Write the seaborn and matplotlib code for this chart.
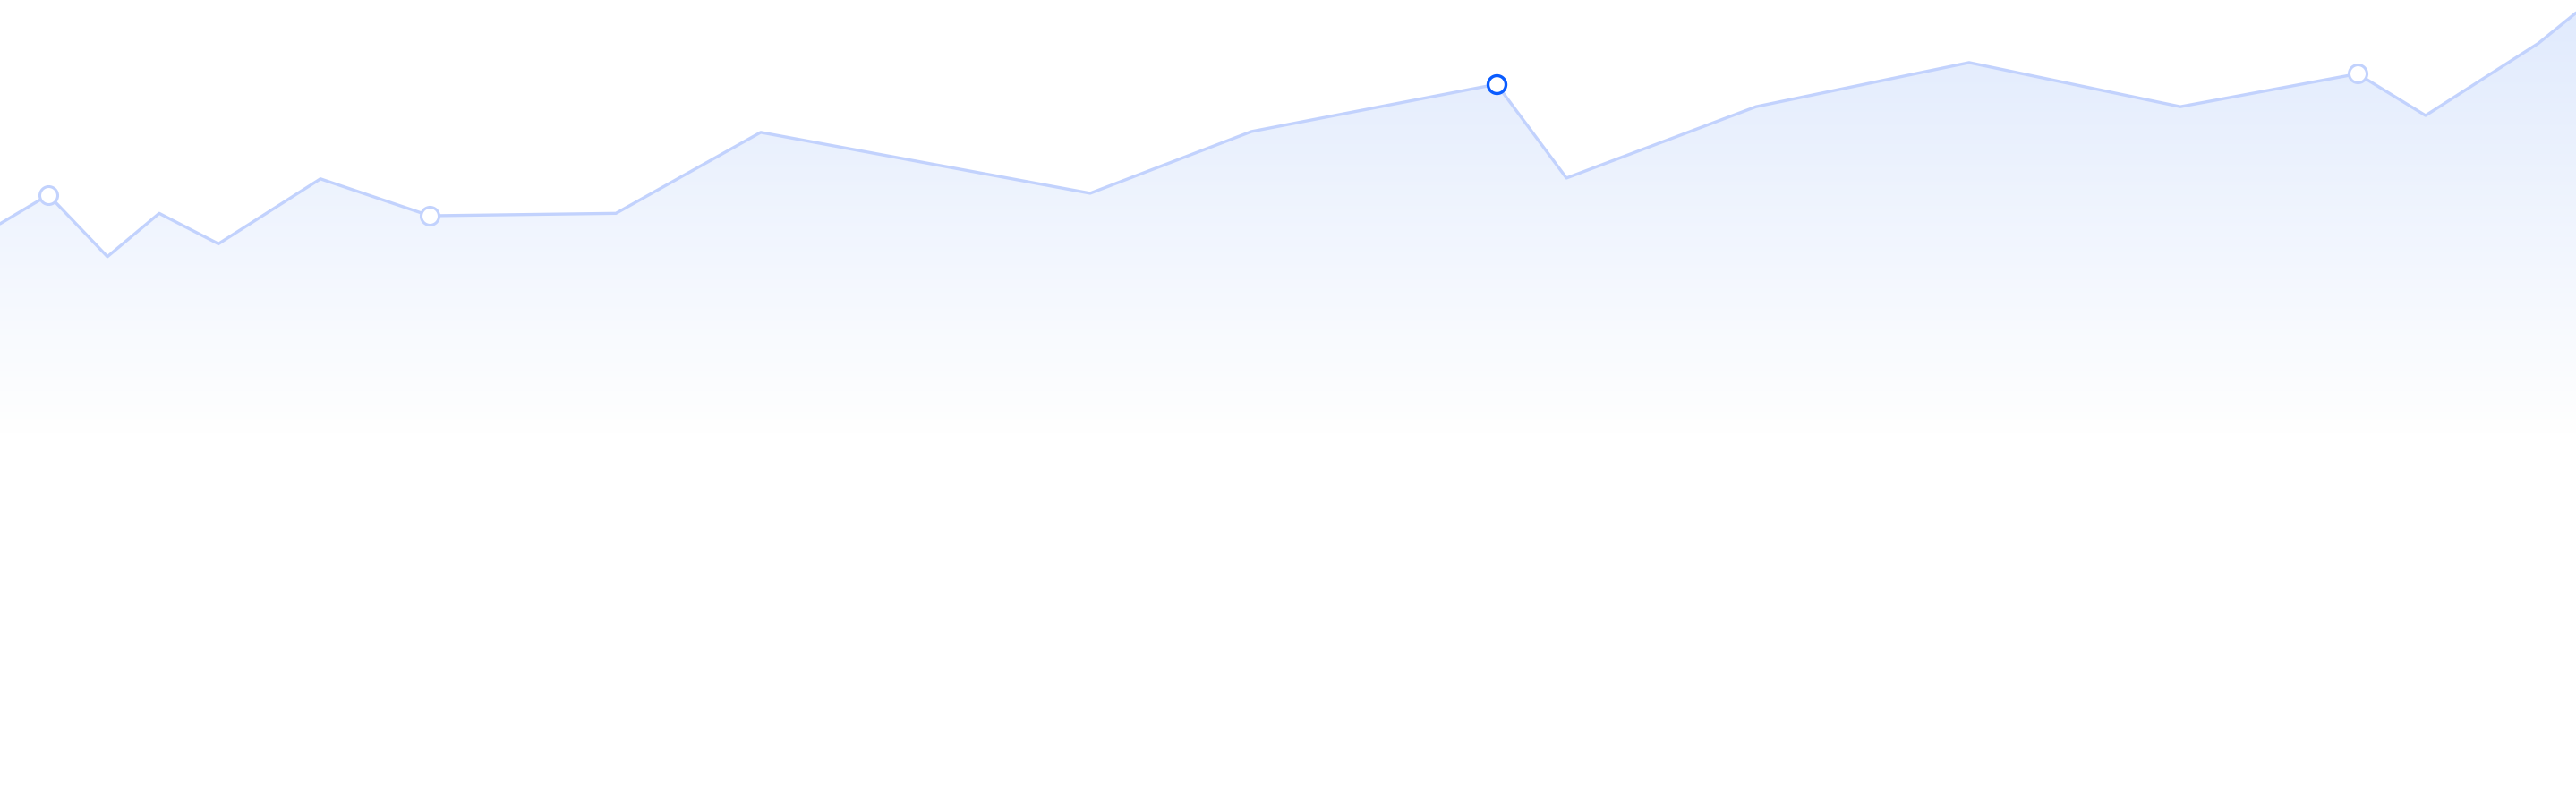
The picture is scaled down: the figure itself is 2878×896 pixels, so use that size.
import numpy as np
import pandas as pd
import seaborn as sns
import matplotlib
matplotlib.use("Agg")
import matplotlib.pyplot as plt
from matplotlib.colors import to_rgb

# series (x: 0-100 across, y: 0-100 bottom to top)
x_vals = [0.0, 1.88, 4.17, 6.18, 8.48, 12.44, 16.68, 23.91, 29.53, 42.32,
          48.58, 58.10, 60.81, 68.17, 76.44, 84.64, 91.52, 94.16, 98.54, 100.0]
y_vals = [72.1, 75.7, 68.0, 73.4, 69.6, 77.7, 73.1, 73.4, 83.5, 75.9,
          83.6, 89.5, 77.8, 86.7, 92.2, 86.7, 90.8, 85.6, 94.6, 98.4]
marked = [1, 6, 16]      # light ring markers
active = [11]            # highlighted marker

line_col = '#c2d2fd'
active_col = '#0a5cff'
top_col = '#e0eafd'

df = pd.DataFrame({'x': x_vals, 'y': y_vals})

sns.set_style("white")
fig = plt.figure(figsize=(28.78, 8.96), dpi=100)
ax = fig.add_axes([0, 0, 1, 1])

# gradient area under the line
poly = ax.fill_between(df['x'], df['y'], 0, facecolor='none', edgecolor='none')
grad_top, grad_end = 100.0, 46.0
yy = np.linspace(100, 0, 400)
frac = np.clip((grad_top - yy) / (grad_top - grad_end), 0, 1)[:, None]
c0 = np.array(to_rgb(top_col))
img = c0 * (1 - frac) + np.ones(3) * frac
img = np.repeat(img[:, None, :], 2, axis=1)
im = ax.imshow(img, extent=[0, 100, 0, 100], aspect='auto', zorder=1,
               interpolation='bilinear')
path = poly.get_paths()[0]
im.set_clip_path(path, transform=ax.transData)

sns.lineplot(data=df, x='x', y='y', ax=ax, color=line_col, linewidth=2.4,
             estimator=None, zorder=2)

sns.scatterplot(data=df.iloc[marked], x='x', y='y', ax=ax, s=14.4**2,
                facecolor='white', edgecolor=line_col, linewidth=2.2, zorder=3)
sns.scatterplot(data=df.iloc[active], x='x', y='y', ax=ax, s=14.4**2,
                facecolor='white', edgecolor=active_col, linewidth=2.4, zorder=4)

ax.set_xlim(0, 100)
ax.set_ylim(0, 100)
ax.set_axis_off()
ax.set_xlabel('')
ax.set_ylabel('')

plt.savefig('out.png', dpi=100, facecolor='white')
